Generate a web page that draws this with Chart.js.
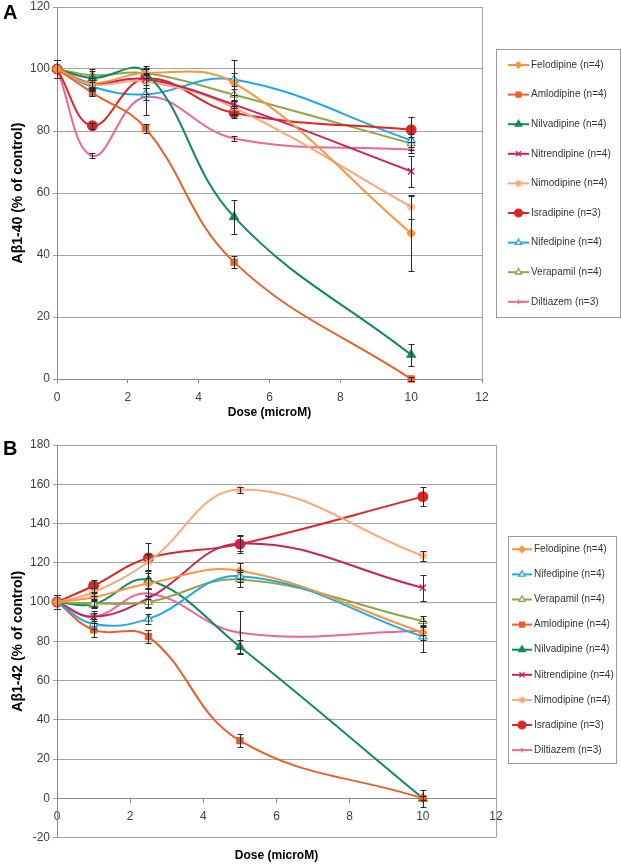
<!DOCTYPE html>
<html lang="es">
<head>
<meta charset="utf-8">
<title>Aβ1-40 / Aβ1-42 vs dosis</title>
<script src="https://cdn.jsdelivr.net/npm/chart.js@4.4.1/dist/chart.umd.min.js"></script>
<style>
  body { margin: 0; background: #fff; width: 621px; height: 866px; position: relative; overflow: hidden; }
  canvas { position: absolute; left: 0; }
  #graficaA { top: 0; }
  #graficaB { top: 425px; }
  .panel { position: absolute; left: 3px; z-index: 2; font: bold 20px/20px "Liberation Sans", Arial, sans-serif; color: #000; }
</style>
</head>
<body>
<div class="panel" style="top:2px">A</div>
<div class="panel" style="top:438px">B</div>
<canvas id="graficaA" width="621" height="425"></canvas>
<canvas id="graficaB" width="621" height="441"></canvas>
<script>
// dosis (microM) comunes a todas las series
const dosis = [0, 1, 2.5, 5, 10];
const marcasX = [0, 2, 4, 6, 8, 10, 12];
const marcasYA = [0, 20, 40, 60, 80, 100, 120];
const marcasYB = [-20, 0, 20, 40, 60, 80, 100, 120, 140, 160, 180];

// Panel A: Aβ1-40 (% del control)
const ordenA = ["Felodipine", "Amlodipine", "Nilvadipine", "Nitrendipine", "Nimodipine", "Isradipine", "Nifedipine", "Verapamil", "Diltiazem"];
const nA = [4, 4, 4, 4, 4, 3, 4, 4, 3];
const felodipinaA = [100, 95.5, 98.7, 95.5, 47];
const amlodipinaA = [100, 92.3, 80.9, 37.7, 0];
const nilvadipinaA = [100, 97.1, 99, 52.3, 7.8];
const nitrendipinaA = [100, 95.5, 96.8, 88.5, 67];
const nimodipinaA = [100, 95, 96, 87.5, 55.5];
const isradipinaA = [100, 81.7, 96.9, 85.8, 80.4];
const nifedipinaA = [100, 94.3, 91.8, 96.6, 77];
const verapamiloA = [100, 98, 98.7, 91.7, 76];
const diltiazemA = [100, 72, 91, 77.6, 74];
// errores (±)
const errFelodipinaA = [3, 1.5, 1.5, 7.5, 12];
const errAmlodipinaA = [3, 1, 1.5, 2, 0.5];
const errNilvadipinaA = [3, 3, 2, 5.5, 3.5];
const errNitrendipinaA = [3, 1.5, 2, 3, 5];
const errNimodipinaA = [3, 1.5, 2, 2.5, 4];
const errIsradipinaA = [3, 1, 3, 1.5, 4];
const errNifedipinaA = [3, 1.5, 6.5, 2, 2];
const errVerapamiloA = [3, 1.5, 1.5, 2, 2];
const errDiltiazemA = [3, 0.8, 1, 0.8, 1];

// Panel B: Aβ1-42 (% del control)
const ordenB = ["Felodipine", "Nifedipine", "Verapamil", "Amlodipine", "Nilvadipine", "Nitrendipine", "Nimodipine", "Isradipine", "Diltiazem"];
const nB = [4, 4, 4, 4, 4, 4, 4, 3, 3];
const felodipinaB = [100, 102.4, 109.5, 115.9, 84.5];
const nifedipinaB = [100, 88.8, 91.4, 113.2, 82.4];
const verapamiloB = [100, 99.3, 100, 111.5, 90.3];
const amlodipinaB = [100, 85.8, 82.4, 29.4, 0];
const nilvadipinaB = [100, 98.8, 111.2, 77.2, 0];
const nitrendipinaB = [100, 92.5, 102, 129.8, 107.3];
const nimodipinaB = [100, 105, 120.5, 157.3, 123.6];
const isradipinaB = [100, 108.3, 122.5, 129.5, 153.7];
const diltiazemB = [100, 92.5, 104.4, 84.4, 85.2];
const errFelodipinaB = [3.5, 2, 3, 4, 4];
const errNifedipinaB = [3.5, 2.5, 2.5, 3, 8];
const errVerapamiloB = [3.5, 2, 3, 4, 2.5];
const errAmlodipinaB = [3.5, 3.5, 3.5, 3.5, 1];
const errNilvadipinaB = [3.5, 2, 4.5, 3.3, 4.5];
const errNitrendipinaB = [3.5, 3, 4.5, 4, 6.6];
const errNimodipinaB = [3.5, 2, 4, 1.5, 2.5];
const errIsradipinaB = [3.5, 3, 7.5, 4.5, 4.8];
const errDiltiazemB = [3.5, 2, 3, 11, 2];

const fuente = '"Liberation Sans", Arial, sans-serif';
const colorRejilla = "#a6a398";
const colorEje = "#8a8a8a";

const estilos = {
  Felodipine: { color: "#f7963f", punto: "rectRot", radio: 4, relleno: true },
  Amlodipine: { color: "#e8602a", punto: "rect", radio: 4.3, relleno: true },
  Nilvadipine: { color: "#138a5e", punto: "triangle", radio: 4.8, relleno: true },
  Nitrendipine: { color: "#c8235b", punto: "crossRot", radio: 4.5, relleno: false },
  Nimodipine: { color: "#f9a77c", punto: "star", radio: 4.5, relleno: false },
  Isradipine: { color: "#d92629", punto: "circle", radio: 4.8, relleno: true },
  Nifedipine: { color: "#22a9e1", punto: "triangle", radio: 4.5, relleno: false },
  Verapamil: { color: "#8ea64e", punto: "triangle", radio: 4.5, relleno: false },
  Diltiazem: { color: "#ec6794", punto: "cross", radio: 3, relleno: false },
};

function crearSerie(farmaco, n, valores, errores) {
  const e = estilos[farmaco];
  return {
    label: `${farmaco} (n=${n})`,
    data: dosis.map((d, i) => ({ x: d, y: valores[i] })),
    errores: errores,
    borderColor: e.color,
    backgroundColor: e.color,
    pointStyle: e.punto,
    pointRadius: e.radio,
    pointBorderColor: e.color,
    pointBackgroundColor: e.relleno ? e.color : "#ffffff",
    pointBorderWidth: 1.3,
    borderWidth: 2,
    tension: 0.4,
    fill: false,
    clip: false,
  };
}

// barras de error verticales con remates
const barrasError = {
  id: "barrasError",
  afterDatasetsDraw(chart) {
    const { ctx } = chart;
    const x = chart.scales.x;
    const y = chart.scales.y;
    ctx.save();
    ctx.strokeStyle = "#2a2a2a";
    ctx.lineWidth = 1;
    chart.data.datasets.forEach((ds) => {
      ds.data.forEach((p, i) => {
        const err = ds.errores[i];
        const px = Math.round(x.getPixelForValue(p.x)) + 0.5;
        const arriba = Math.round(y.getPixelForValue(p.y + err)) + 0.5;
        const abajo = Math.round(y.getPixelForValue(p.y - err)) + 0.5;
        ctx.beginPath();
        ctx.moveTo(px, arriba);
        ctx.lineTo(px, abajo);
        ctx.moveTo(px - 3, arriba);
        ctx.lineTo(px + 3, arriba);
        ctx.moveTo(px - 3, abajo);
        ctx.lineTo(px + 3, abajo);
        ctx.stroke();
      });
    });
    ctx.restore();
  },
};

// borde derecho del area de trazado
const marcoDerecho = {
  id: "marcoDerecho",
  beforeDatasetsDraw(chart) {
    const { ctx, chartArea } = chart;
    const xr = Math.round(chartArea.right) + 0.5;
    ctx.save();
    ctx.strokeStyle = colorRejilla;
    ctx.lineWidth = 1;
    ctx.beginPath();
    ctx.moveTo(xr, chartArea.top);
    ctx.lineTo(xr, chartArea.bottom);
    ctx.stroke();
    ctx.restore();
  },
};

// leyenda con caja al estilo de la hoja de calculo
const leyendaCaja = {
  id: "leyendaCaja",
  afterDraw(chart, args, op) {
    const ctx = chart.ctx;
    ctx.save();
    ctx.fillStyle = "#ffffff";
    ctx.strokeStyle = "#9a9a9a";
    ctx.lineWidth = 1;
    ctx.fillRect(op.x, op.y, op.ancho, op.alto);
    ctx.strokeRect(op.x + 0.5, op.y + 0.5, op.ancho, op.alto);
    ctx.font = `10px ${fuente}`;
    ctx.textBaseline = "middle";
    ctx.textAlign = "left";
    chart.data.datasets.forEach((ds, i) => {
      const yy = op.primeraY + i * op.paso;
      const cx = (op.lineaX1 + op.lineaX2) / 2;
      ctx.strokeStyle = ds.borderColor;
      ctx.lineWidth = 2;
      ctx.beginPath();
      ctx.moveTo(op.lineaX1, yy);
      ctx.lineTo(op.lineaX2, yy);
      ctx.stroke();
      ctx.fillStyle = ds.pointBackgroundColor;
      ctx.lineWidth = ds.pointBorderWidth;
      if (Chart.helpers && Chart.helpers.drawPoint) {
        Chart.helpers.drawPoint(ctx, { pointStyle: ds.pointStyle, radius: ds.pointRadius * 0.8, borderWidth: ds.pointBorderWidth, rotation: 0 }, cx, yy);
      } else {
        ctx.beginPath();
        ctx.arc(cx, yy, 3, 0, Math.PI * 2);
        ctx.fill();
        ctx.stroke();
      }
      ctx.fillStyle = "#333333";
      ctx.fillText(ds.label, op.textoX, yy);
    });
    ctx.restore();
  },
};

function ejeY(marcas, min, max, titulo) {
  return {
    type: "linear",
    min: min,
    max: max,
    afterBuildTicks: (eje) => { eje.ticks = marcas.map((v) => ({ value: v })); },
    afterFit: (eje) => {
      eje.width = 57;
      eje.paddingTop = 0;
      eje.paddingBottom = 0;
    },
    grid: { color: colorRejilla, tickLength: 4, drawTicks: true },
    border: { color: colorEje, width: 1 },
    ticks: { padding: 3, color: "#404040", font: { family: fuente, size: 12 } },
    title: { display: true, text: titulo, color: "#000", font: { family: fuente, size: 14, weight: "bold" }, padding: { top: 10, bottom: 0 } },
  };
}

function ejeX(posicion) {
  return {
    type: "linear",
    min: 0,
    max: 12,
    position: posicion,
    afterBuildTicks: (eje) => { eje.ticks = marcasX.map((v) => ({ value: v })); },
    grid: { drawOnChartArea: false, drawTicks: true, tickLength: 4, color: colorEje },
    border: { color: colorEje, width: 1 },
    ticks: { padding: 7, color: "#404040", maxRotation: 0, font: { family: fuente, size: 12 } },
  };
}

const seriesA = [
  crearSerie("Felodipine", nA[0], felodipinaA, errFelodipinaA),
  crearSerie("Amlodipine", nA[1], amlodipinaA, errAmlodipinaA),
  crearSerie("Nilvadipine", nA[2], nilvadipinaA, errNilvadipinaA),
  crearSerie("Nitrendipine", nA[3], nitrendipinaA, errNitrendipinaA),
  crearSerie("Nimodipine", nA[4], nimodipinaA, errNimodipinaA),
  crearSerie("Isradipine", nA[5], isradipinaA, errIsradipinaA),
  crearSerie("Nifedipine", nA[6], nifedipinaA, errNifedipinaA),
  crearSerie("Verapamil", nA[7], verapamiloA, errVerapamiloA),
  crearSerie("Diltiazem", nA[8], diltiazemA, errDiltiazemA),
];

const seriesB = [
  crearSerie("Felodipine", nB[0], felodipinaB, errFelodipinaB),
  crearSerie("Nifedipine", nB[1], nifedipinaB, errNifedipinaB),
  crearSerie("Verapamil", nB[2], verapamiloB, errVerapamiloB),
  crearSerie("Amlodipine", nB[3], amlodipinaB, errAmlodipinaB),
  crearSerie("Nilvadipine", nB[4], nilvadipinaB, errNilvadipinaB),
  crearSerie("Nitrendipine", nB[5], nitrendipinaB, errNitrendipinaB),
  crearSerie("Nimodipine", nB[6], nimodipinaB, errNimodipinaB),
  crearSerie("Isradipine", nB[7], isradipinaB, errIsradipinaB),
  crearSerie("Diltiazem", nB[8], diltiazemB, errDiltiazemB),
];

// grafica A
const xA = ejeX("bottom");
xA.afterFit = (eje) => { eje.height = 46; };
xA.title = { display: true, text: "Dose (microM)", color: "#000", font: { family: fuente, size: 12, weight: "bold" }, padding: { top: 0, bottom: 5 } };

new Chart(document.getElementById("graficaA"), {
  type: "line",
  data: { datasets: seriesA },
  options: {
    responsive: false,
    animation: false,
    events: [],
    layout: { padding: { top: 7, right: 139, left: 0, bottom: 0 } },
    scales: { x: xA, y: ejeY(marcasYA, 0, 120, "Aβ1-40 (% of control)") },
    plugins: {
      legend: { display: false },
      tooltip: { enabled: false },
      leyendaCaja: { x: 496, y: 49, ancho: 124, alto: 268, primeraY: 65, paso: 29.6, lineaX1: 508, lineaX2: 529, textoX: 531 },
    },
  },
  plugins: [marcoDerecho, barrasError, leyendaCaja],
});

// grafica B: el eje X cruza en y = 0
new Chart(document.getElementById("graficaB"), {
  type: "line",
  data: { datasets: seriesB },
  options: {
    responsive: false,
    animation: false,
    events: [],
    layout: { padding: { top: 20, right: 125, left: 0, bottom: 0 } },
    scales: { x: ejeX({ y: 0 }), y: ejeY(marcasYB, -20, 180, "Aβ1-42 (% of control)") },
    plugins: {
      legend: { display: false },
      tooltip: { enabled: false },
      title: { display: true, position: "bottom", fullSize: false, text: "Dose (microM)", color: "#000", font: { family: fuente, size: 12, weight: "bold" }, padding: { top: 11, bottom: 3 } },
      leyendaCaja: { x: 508, y: 111, ancho: 108, alto: 227, primeraY: 124.3, paso: 25.1, lineaX1: 512, lineaX2: 532, textoX: 534 },
    },
  },
  plugins: [marcoDerecho, barrasError, leyendaCaja],
});
</script>
</body>
</html>
